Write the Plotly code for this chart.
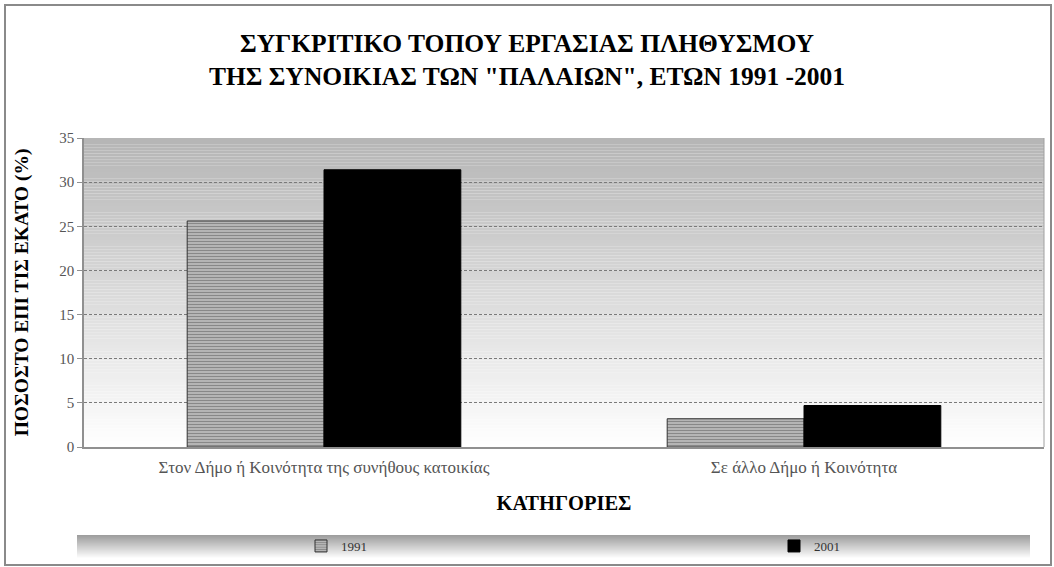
import plotly.graph_objects as go

# data
categories = ["Στον Δήμο ή Κοινότητα της συνήθους κατοικίας", "Σε άλλο Δήμο ή Κοινότητα"]
years = ["1991", "2001"]
values_1991 = [25.6, 3.2]
values_2001 = [31.4, 4.7]
y_ticks = [0, 5, 10, 15, 20, 25, 30, 35]

serif = "Liberation Serif, Times New Roman, serif"

# plot area in pixels (for the decorative background shapes)
W, H = 1054, 567
L, R, T, B = 84, 10, 138, 120
pw, ph = W - L - R, H - T - B


def px_x(x):
    return (x - L) / pw


def px_y(y):
    return (H - B - y) / ph


fig = go.Figure()
fig.add_trace(go.Bar(
    x=categories, y=values_1991, name=years[0], legend="legend", showlegend=True,
    marker=dict(color="white", line=dict(color="#333", width=1),
                pattern=dict(shape="-", size=3, solidity=0.75, fgcolor="#111", bgcolor="white")),
))
fig.add_trace(go.Bar(
    x=categories, y=values_2001, name=years[1], legend="legend2", showlegend=True,
    marker=dict(color="black", line=dict(color="black", width=1)),
))

shapes = []
# grey gradient behind the plot (dark at top, white at bottom)
n = 100
for i in range(n):
    g = int(182 + (255 - 182) * (i / (n - 1)))
    shapes.append(dict(type="rect", xref="paper", yref="paper", layer="below",
                       x0=0, x1=1, y0=1 - (i + 1) / n, y1=1 - i / n,
                       fillcolor=f"rgb({g},{g},{g})", line=dict(width=0)))
# gradient bar behind the legend
ly0 = 535
m = 23
for i in range(m):
    g = int(158 + (252 - 158) * (i / (m - 1)))
    shapes.append(dict(type="rect", xref="paper", yref="paper", layer="below",
                       x0=px_x(77), x1=px_x(1030),
                       y0=px_y(ly0 + i + 1), y1=px_y(ly0 + i),
                       fillcolor=f"rgb({g},{g},{g})", line=dict(width=0)))
# outer chart border
shapes.append(dict(type="rect", xref="paper", yref="paper", layer="below",
                   x0=px_x(5), x1=px_x(1051), y0=px_y(565), y1=px_y(5),
                   fillcolor="rgba(0,0,0,0)", line=dict(color="#8a8a8a", width=2)))
# right edge of plot area
shapes.append(dict(type="line", xref="paper", yref="paper", x0=1, x1=1, y0=0, y1=1,
                   line=dict(color="#a0a0a0", width=1)))

legend_style = dict(
    orientation="h", xanchor="left", yanchor="middle", yref="paper",
    bgcolor="rgba(0,0,0,0)", itemwidth=30,
    font=dict(family=serif, size=13, color="#333"),
)

fig.update_layout(
    width=W, height=H,
    margin=dict(l=L, r=R, t=T, b=B, autoexpand=False),
    paper_bgcolor="white", plot_bgcolor="rgba(0,0,0,0)",
    barmode="group", bargap=0.43, bargroupgap=0,
    shapes=shapes,
    showlegend=True,
    font=dict(family=serif, color="#444"),
    title=dict(
        text="ΣΥΓΚΡΙΤΙΚΟ ΤΟΠΟΥ ΕΡΓΑΣΙΑΣ ΠΛΗΘΥΣΜΟΥ<br>ΤΗΣ ΣΥΝΟΙΚΙΑΣ ΤΩΝ \"ΠΑΛΑΙΩΝ\", ΕΤΩΝ 1991 -2001",
        x=0.5, xanchor="center", xref="container",
        y=1 - 52 / H, yanchor="middle", yref="container",
        font=dict(family=serif, size=25.5, color="black", weight="bold"),
    ),
    xaxis=dict(
        automargin=False,
        title=dict(text="ΚΑΤΗΓΟΡΙΕΣ", font=dict(family=serif, size=20.5, color="black", weight="bold"),
                   standoff=19),
        tickfont=dict(family=serif, size=17, color="#555"),
        ticklabelstandoff=4,
        showline=True, linecolor="#909090", linewidth=1.5,
        ticks="", showgrid=False,
    ),
    yaxis=dict(
        automargin=False,
        title=dict(text="ΠΟΣΟΣΤΟ ΕΠΙ ΤΙΣ ΕΚΑΤΟ (%)",
                   font=dict(family=serif, size=19.5, color="black", weight="bold"), standoff=25),
        range=[0, 35], tickvals=y_ticks,
        tickfont=dict(family=serif, size=15, color="#555"),
        showline=True, linecolor="#909090", linewidth=1.5,
        ticks="outside", ticklen=5, tickcolor="#909090",
        showgrid=True, gridcolor="#7a7a7a", griddash="3px,2px", gridwidth=1,
        zeroline=False,
    ),
    legend=dict(legend_style, x=px_x(301), y=px_y(546)),
    legend2=dict(legend_style, x=px_x(774), y=px_y(546)),
)

# drop the default page margin so the figure sits at the window's corner
fig.write_html("out.html", config={"displayModeBar": False},
               post_script="document.body.style.margin='0';")
